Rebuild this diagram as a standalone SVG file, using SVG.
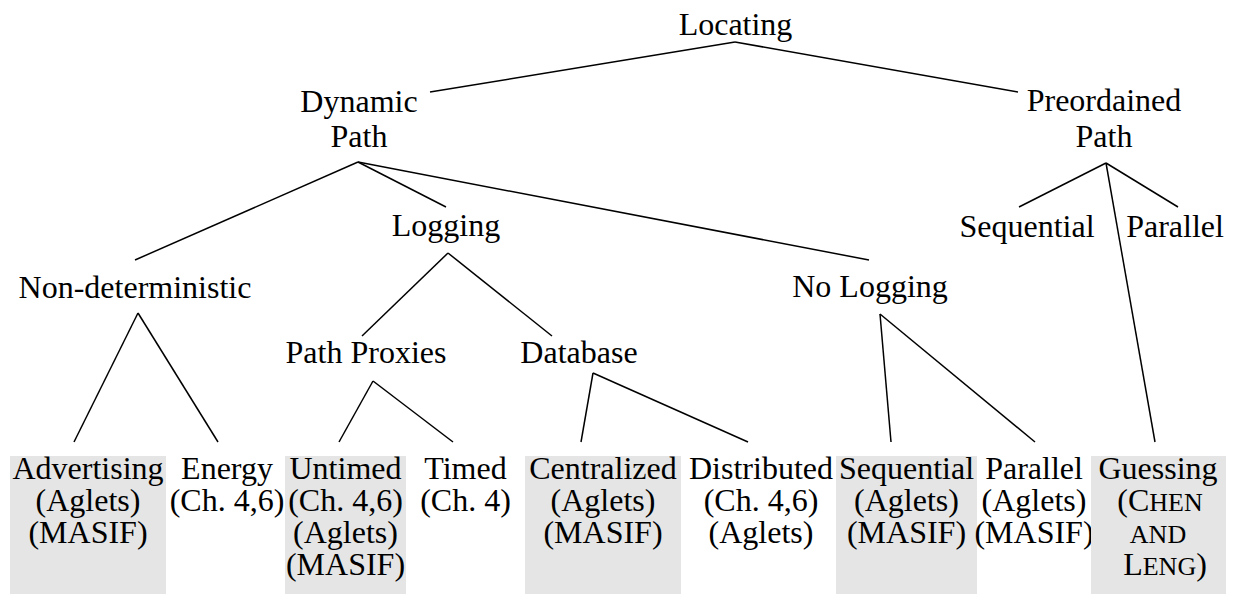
<svg xmlns="http://www.w3.org/2000/svg" width="1235" height="594" viewBox="0 0 1235 594">
<style>
text{font-family:"Liberation Serif","Times New Roman",serif;font-size:32px;fill:#000;text-anchor:middle}
.sc{font-size:26px}
.hl{fill:#e5e5e5;stroke:none}
#connectors line{stroke:#000;stroke-width:1.5;fill:none}
</style>
<rect width="1235" height="594" fill="#fff"/>
<g id="connectors">
<line x1="735" y1="42" x2="430" y2="92"/>
<line x1="735" y1="42" x2="1018" y2="92"/>
<line x1="358" y1="162" x2="135" y2="260"/>
<line x1="358" y1="162" x2="446" y2="207"/>
<line x1="358" y1="162" x2="869" y2="260"/>
<line x1="1106" y1="163" x2="1019" y2="207"/>
<line x1="1106" y1="163" x2="1178" y2="207"/>
<line x1="1106" y1="163" x2="1155" y2="442"/>
<line x1="138" y1="313" x2="74" y2="442"/>
<line x1="138" y1="313" x2="218" y2="442"/>
<line x1="448" y1="253" x2="362" y2="336"/>
<line x1="448" y1="253" x2="552" y2="336"/>
<line x1="880" y1="314" x2="891" y2="442"/>
<line x1="880" y1="314" x2="1035" y2="442"/>
<line x1="373" y1="381" x2="339" y2="442"/>
<line x1="373" y1="381" x2="453" y2="442"/>
<line x1="593" y1="373" x2="581" y2="442"/>
<line x1="593" y1="373" x2="748" y2="442"/>
</g>
<g id="locating"><text x="735.5" y="35">Locating</text></g>
<g id="dynamic-path"><text x="359" y="112">Dynamic</text><text x="359" y="147">Path</text></g>
<g id="preordained-path"><text x="1104" y="111">Preordained</text><text x="1104" y="147">Path</text></g>
<g id="non-deterministic"><text x="135" y="298">Non-deterministic</text></g>
<g id="logging"><text x="446" y="236">Logging</text></g>
<g id="no-logging"><text x="870" y="297">No Logging</text></g>
<g id="pre-sequential"><text x="1027" y="237">Sequential</text></g>
<g id="pre-parallel"><text x="1175" y="237">Parallel</text></g>
<g id="path-proxies"><text x="366" y="363">Path Proxies</text></g>
<g id="database"><text x="579" y="363">Database</text></g>
<g id="advertising"><rect class="hl" x="10" y="456" width="156" height="138"/><text x="88" y="479">Advertising</text><text x="88" y="511">(Aglets)</text><text x="88" y="543">(MASIF)</text></g>
<g id="energy"><text x="227" y="479">Energy</text><text x="227" y="511">(Ch. 4,6)</text></g>
<g id="untimed"><rect class="hl" x="285" y="456" width="121" height="138"/><text x="345.5" y="479">Untimed</text><text x="345.5" y="511">(Ch. 4,6)</text><text x="345.5" y="543">(Aglets)</text><text x="345.5" y="575">(MASIF)</text></g>
<g id="timed"><text x="465.5" y="479">Timed</text><text x="465.5" y="511">(Ch. 4)</text></g>
<g id="centralized"><rect class="hl" x="525" y="456" width="156" height="138"/><text x="603" y="479">Centralized</text><text x="603" y="511">(Aglets)</text><text x="603" y="543">(MASIF)</text></g>
<g id="distributed"><text x="761" y="479">Distributed</text><text x="761" y="511">(Ch. 4,6)</text><text x="761" y="543">(Aglets)</text></g>
<g id="sequential"><rect class="hl" x="836" y="456" width="141" height="138"/><text x="906.5" y="479">Sequential</text><text x="906.5" y="511">(Aglets)</text><text x="906.5" y="543">(MASIF)</text></g>
<g id="parallel"><text x="1034" y="479">Parallel</text><text x="1034" y="511">(Aglets)</text><text x="1034" y="543">(MASIF)</text></g>
<g id="guessing"><rect class="hl" x="1091" y="456" width="135" height="138"/><text x="1158" y="479">Guessing</text><text x="1160" y="511">(C<tspan class="sc">HEN</tspan></text><text x="1158" y="543" class="sc">AND</text><text x="1165" y="575">L<tspan class="sc">ENG</tspan>)</text></g>
</svg>
